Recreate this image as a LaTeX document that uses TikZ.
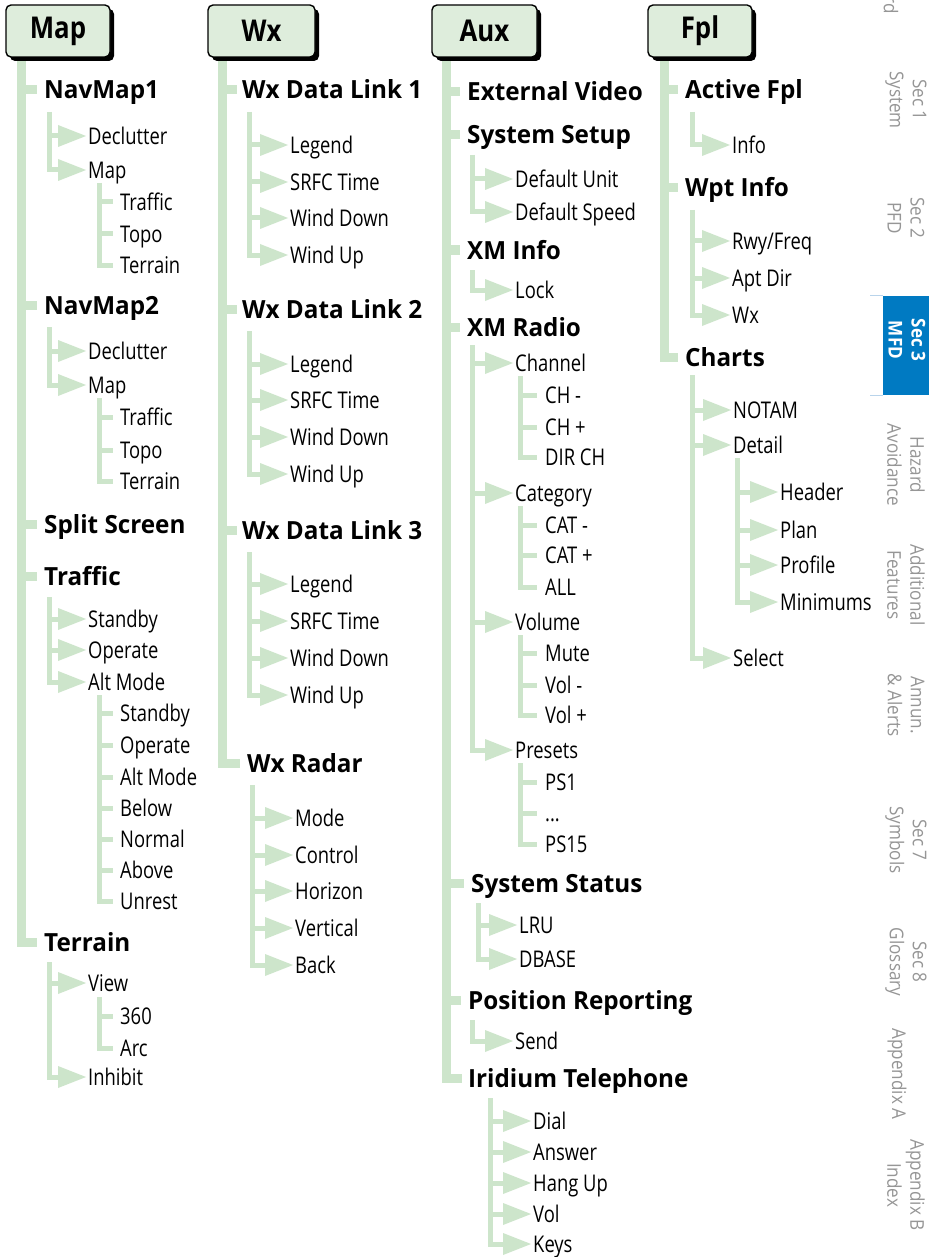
\documentclass[tikz,border=0pt]{standalone}
\usepackage{fontspec}
\usetikzlibrary{arrows.meta,shadows}
\newfontfamily\regf{Open Sans}[FakeStretch=0.8]
\newfontfamily\boldf{Open Sans}[FakeStretch=0.97]
\newfontfamily\hdrf{Open Sans}[FakeStretch=0.86]
\newfontfamily\tabf{Open Sans}[FakeStretch=0.9]
\definecolor{gr}{RGB}{205,229,203}
\definecolor{boxg}{RGB}{222,237,220}
\definecolor{tabblue}{RGB}{0,122,194}
\definecolor{tabgray}{RGB}{150,150,150}
\definecolor{tabline}{RGB}{185,212,235}
\begin{document}
\begin{tikzpicture}[x=1pt,y=-1pt,
 trunk/.style={draw=gr,line width=9pt,line join=miter},
 sub/.style={draw=gr,line width=5pt,line join=miter},
 arr/.style={-{Triangle[length=28pt,width=22pt,line width=0pt]}},
 hdr/.style={draw=black,line width=1.4pt,fill=boxg,rounded corners=5pt,minimum width=104pt,minimum height=52pt,inner sep=0pt,font=\hdrf\bfseries\fontsize{30}{30}\selectfont,drop shadow={shadow xshift=4pt,shadow yshift=-4pt,fill=black,opacity=1}},
 lone/.style={anchor=west,inner sep=0pt,text height=18pt,text depth=0pt,font=\boldf\bfseries\fontsize{25}{25}\selectfont},
 ltwo/.style={anchor=west,inner sep=0pt,text height=16.5pt,text depth=0pt,font=\regf\fontsize{23}{23}\selectfont},
 tab/.style={rotate=-90,align=center,text=tabgray,font=\tabf\fontsize{19}{23}\selectfont,inner sep=0pt},
]
\useasboundingbox (0,0) rectangle (929,1257);
\fill[white] (0,0) rectangle (929,1257);

% ---------------- Column 1: Map ----------------
\coordinate (tmap) at (21,50);
\node[lone] (navmapA) at (44,90) {NavMap1};
\node[ltwo] (declA) at (88,136) {Declutter};
\node[ltwo] (mapA) at (88,170) {Map};
\node[ltwo] (trafA) at (120,202) {Traffic};
\node[ltwo] (topoA) at (120,234) {Topo};
\node[ltwo] (terrA) at (120,265) {Terrain};
\node[lone] (navmapB) at (44,305) {NavMap2};
\node[ltwo] (declB) at (88,351) {Declutter};
\node[ltwo] (mapB) at (88,385) {Map};
\node[ltwo] (trafB) at (120,417) {Traffic};
\node[ltwo] (topoB) at (120,450) {Topo};
\node[ltwo] (terrB) at (120,481) {Terrain};
\node[lone] (split) at (44,524) {Split Screen};
\node[lone] (trafH) at (44,576) {Traffic};
\node[ltwo] (stbA) at (88,619) {Standby};
\node[ltwo] (opA) at (88,650) {Operate};
\node[ltwo] (altA) at (88,682) {Alt Mode};
\node[ltwo] (stbB) at (120,713) {Standby};
\node[ltwo] (opB) at (120,745) {Operate};
\node[ltwo] (altB) at (120,777) {Alt Mode};
\node[ltwo] (below) at (120,808) {Below};
\node[ltwo] (normal) at (120,839) {Normal};
\node[ltwo] (above) at (120,870) {Above};
\node[ltwo] (unrest) at (120,901) {Unrest};
\node[lone] (terrH) at (44,942) {Terrain};
\node[ltwo] (view) at (88,983) {View};
\node[ltwo] (dsix) at (120,1016) {360};
\node[ltwo] (arc) at (120,1048) {Arc};
\node[ltwo] (inhibit) at (88,1077) {Inhibit};
\coordinate (sA) at (49.5,112);
\coordinate (sAm) at (99.5,183);
\coordinate (sB) at (49.5,327);
\coordinate (sBm) at (99.5,398);
\coordinate (sT) at (49.5,597);
\coordinate (sTa) at (99.5,695);
\coordinate (sR) at (49.5,962);
\coordinate (sRv) at (99.5,997);

\draw[trunk] (tmap) |- ([xshift=-7pt]terrH.west);
\foreach \n in {navmapA,navmapB,split,trafH} \draw[trunk] (\n.west -| tmap) -- ([xshift=-7pt]\n.west);
\draw[sub,arr] (sA) |- ([xshift=-2pt]mapA.west);
\draw[sub,arr] (declA.west -| sA) -- ([xshift=-2pt]declA.west);
\draw[sub] (sAm) |- ([xshift=-7pt]terrA.west);
\foreach \n in {trafA,topoA} \draw[sub] (\n.west -| sAm) -- ([xshift=-7pt]\n.west);
\draw[sub,arr] (sB) |- ([xshift=-2pt]mapB.west);
\draw[sub,arr] (declB.west -| sB) -- ([xshift=-2pt]declB.west);
\draw[sub] (sBm) |- ([xshift=-7pt]terrB.west);
\foreach \n in {trafB,topoB} \draw[sub] (\n.west -| sBm) -- ([xshift=-7pt]\n.west);
\draw[sub,arr] (sT) |- ([xshift=-2pt]altA.west);
\foreach \n in {stbA,opA} \draw[sub,arr] (\n.west -| sT) -- ([xshift=-2pt]\n.west);
\draw[sub] (sTa) |- ([xshift=-7pt]unrest.west);
\foreach \n in {stbB,opB,altB,below,normal,above} \draw[sub] (\n.west -| sTa) -- ([xshift=-7pt]\n.west);
\draw[sub,arr] (sR) |- ([xshift=-2pt]inhibit.west);
\draw[sub,arr] (view.west -| sR) -- ([xshift=-2pt]view.west);
\draw[sub] (sRv) |- ([xshift=-7pt]arc.west);
\draw[sub] (dsix.west -| sRv) -- ([xshift=-7pt]dsix.west);

% ---------------- Column 2: Wx ----------------
\coordinate (twx) at (222,50);
\node[lone] (wxA) at (242,90) {Wx Data Link 1};
\node[ltwo] (legA) at (290,145) {Legend};
\node[ltwo] (srfcA) at (290,182) {SRFC Time};
\node[ltwo] (wdA) at (290,218) {Wind Down};
\node[ltwo] (wuA) at (290,255) {Wind Up};
\node[lone] (wxB) at (242,309) {Wx Data Link 2};
\node[ltwo] (legB) at (290,364) {Legend};
\node[ltwo] (srfcB) at (290,400) {SRFC Time};
\node[ltwo] (wdB) at (290,437) {Wind Down};
\node[ltwo] (wuB) at (290,474) {Wind Up};
\node[lone] (wxC) at (242,530) {Wx Data Link 3};
\node[ltwo] (legC) at (290,584) {Legend};
\node[ltwo] (srfcC) at (290,621) {SRFC Time};
\node[ltwo] (wdC) at (290,658) {Wind Down};
\node[ltwo] (wuC) at (290,695) {Wind Up};
\node[lone] (radar) at (247,763) {Wx Radar};
\node[ltwo] (mode) at (295,818) {Mode};
\node[ltwo] (control) at (295,855) {Control};
\node[ltwo] (horizon) at (295,891) {Horizon};
\node[ltwo] (vertical) at (295,928) {Vertical};
\node[ltwo] (back) at (295,965) {Back};
\coordinate (sW1) at (249.5,112);
\coordinate (sW2) at (249.5,331);
\coordinate (sW3) at (249.5,552);
\coordinate (sWr) at (252.5,785);

\draw[trunk] (twx) |- ([xshift=-7pt]radar.west);
\foreach \n in {wxA,wxB,wxC} \draw[trunk] (\n.west -| twx) -- ([xshift=-5pt]\n.west);
\draw[sub,arr] (sW1) |- ([xshift=-2pt]wuA.west);
\foreach \n in {legA,srfcA,wdA} \draw[sub,arr] (\n.west -| sW1) -- ([xshift=-2pt]\n.west);
\draw[sub,arr] (sW2) |- ([xshift=-2pt]wuB.west);
\foreach \n in {legB,srfcB,wdB} \draw[sub,arr] (\n.west -| sW2) -- ([xshift=-2pt]\n.west);
\draw[sub,arr] (sW3) |- ([xshift=-2pt]wuC.west);
\foreach \n in {legC,srfcC,wdC} \draw[sub,arr] (\n.west -| sW3) -- ([xshift=-2pt]\n.west);
\draw[sub,arr] (sWr) |- ([xshift=-2pt]back.west);
\foreach \n in {mode,control,horizon,vertical} \draw[sub,arr] (\n.west -| sWr) -- ([xshift=-2pt]\n.west);

% ---------------- Column 3: Aux ----------------
\coordinate (taux) at (446,50);
\node[lone] (ext) at (467,92) {External Video};
\node[lone] (setup) at (467,135) {System Setup};
\node[ltwo] (dunit) at (515,179) {Default Unit};
\node[ltwo] (dspeed) at (515,212) {Default Speed};
\node[lone] (xminfo) at (467,250) {XM Info};
\node[ltwo] (lock) at (515,290) {Lock};
\node[lone] (xmradio) at (467,327) {XM Radio};
\node[ltwo] (channel) at (515,363) {Channel};
\node[ltwo] (chm) at (545,395) {CH -};
\node[ltwo] (chp) at (545,427) {CH +};
\node[ltwo] (dirch) at (545,457) {DIR CH};
\node[ltwo] (category) at (515,493) {Category};
\node[ltwo] (catm) at (545,525) {CAT -};
\node[ltwo] (catp) at (545,555) {CAT +};
\node[ltwo] (all) at (545,587) {ALL};
\node[ltwo] (volume) at (515,622) {Volume};
\node[ltwo] (mute) at (545,653) {Mute};
\node[ltwo] (volm) at (545,685) {Vol -};
\node[ltwo] (volp) at (545,715) {Vol +};
\node[ltwo] (presets) at (515,750) {Presets};
\node[ltwo] (psone) at (545,782) {PS1};
\node[ltwo] (dots) at (545,813) {...};
\node[ltwo] (psfif) at (545,844) {PS15};
\node[lone] (status) at (471,883) {System Status};
\node[ltwo] (lru) at (519,925) {LRU};
\node[ltwo] (dbase) at (519,959) {DBASE};
\node[lone] (posrep) at (468,1000) {Position Reporting};
\node[ltwo] (send) at (515,1041) {Send};
\node[lone] (iridium) at (468,1078) {Iridium Telephone};
\node[ltwo] (dial) at (533,1121) {Dial};
\node[ltwo] (answer) at (533,1152) {Answer};
\node[ltwo] (hangup) at (533,1183) {Hang Up};
\node[ltwo] (vol) at (533,1214) {Vol};
\node[ltwo] (keys) at (533,1244) {Keys};
\coordinate (sSS) at (472.5,155);
\coordinate (sXI) at (472.5,270);
\coordinate (sXR) at (472.5,345);
\coordinate (sCh) at (520.5,376);
\coordinate (sCa) at (520.5,506);
\coordinate (sVo) at (520.5,635);
\coordinate (sPr) at (520.5,763);
\coordinate (sSt) at (478,903);
\coordinate (sPo) at (472.5,1020);
\coordinate (sIr) at (490.5,1098);

\draw[trunk] (taux) |- ([xshift=-6pt]iridium.west);
\foreach \n in {ext,setup,xminfo,xmradio,status,posrep} \draw[trunk] (\n.west -| taux) -- ([xshift=-7pt]\n.west);
\draw[sub,arr] (sSS) |- ([xshift=-2pt]dspeed.west);
\draw[sub,arr] (dunit.west -| sSS) -- ([xshift=-2pt]dunit.west);
\draw[sub,arr] (sXI) |- ([xshift=-2pt]lock.west);
\draw[sub,arr] (sXR) |- ([xshift=-2pt]presets.west);
\foreach \n in {channel,category,volume} \draw[sub,arr] (\n.west -| sXR) -- ([xshift=-2pt]\n.west);
\draw[sub] (sCh) |- ([xshift=-8pt]dirch.west);
\foreach \n in {chm,chp} \draw[sub] (\n.west -| sCh) -- ([xshift=-8pt]\n.west);
\draw[sub] (sCa) |- ([xshift=-8pt]all.west);
\foreach \n in {catm,catp} \draw[sub] (\n.west -| sCa) -- ([xshift=-8pt]\n.west);
\draw[sub] (sVo) |- ([xshift=-8pt]volp.west);
\foreach \n in {mute,volm} \draw[sub] (\n.west -| sVo) -- ([xshift=-8pt]\n.west);
\draw[sub] (sPr) |- ([xshift=-8pt]psfif.west);
\foreach \n in {psone,dots} \draw[sub] (\n.west -| sPr) -- ([xshift=-8pt]\n.west);
\draw[sub,arr] (sSt) |- ([xshift=-2pt]dbase.west);
\draw[sub,arr] (lru.west -| sSt) -- ([xshift=-2pt]lru.west);
\draw[sub,arr] (sPo) |- ([xshift=-2pt]send.west);
\draw[sub,arr] (sIr) |- ([xshift=-2pt]keys.west);
\foreach \n in {dial,answer,hangup,vol} \draw[sub,arr] (\n.west -| sIr) -- ([xshift=-2pt]\n.west);

% ---------------- Column 4: Fpl ----------------
\coordinate (tfpl) at (664,50);
\node[lone] (active) at (685,90) {Active Fpl};
\node[ltwo] (info) at (732,145) {Info};
\node[lone] (wpt) at (685,188) {Wpt Info};
\node[ltwo] (rwy) at (732,241) {Rwy/Freq};
\node[ltwo] (aptdir) at (732,278) {Apt Dir};
\node[ltwo] (wxf) at (732,315) {Wx};
\node[lone] (charts) at (685,357) {Charts};
\node[ltwo] (notam) at (733,410) {NOTAM};
\node[ltwo] (detail) at (733,445) {Detail};
\node[ltwo] (header) at (780,492) {Header};
\node[ltwo] (plan) at (780,530) {Plan};
\node[ltwo] (profile) at (780,565) {Profile};
\node[ltwo] (minimums) at (780,602) {Minimums};
\node[ltwo] (select) at (733,658) {Select};
\coordinate (sAF) at (692.5,112);
\coordinate (sWp) at (692.5,210);
\coordinate (sCt) at (692.5,375);
\coordinate (sDt) at (737.5,458);

\draw[trunk] (tfpl) |- ([xshift=-7pt]charts.west);
\foreach \n in {active,wpt} \draw[trunk] (\n.west -| tfpl) -- ([xshift=-7pt]\n.west);
\draw[sub,arr] (sAF) |- ([xshift=-2pt]info.west);
\draw[sub,arr] (sWp) |- ([xshift=-2pt]wxf.west);
\foreach \n in {rwy,aptdir} \draw[sub,arr] (\n.west -| sWp) -- ([xshift=-2pt]\n.west);
\draw[sub,arr] (sCt) |- ([xshift=-2pt]select.west);
\foreach \n in {notam,detail} \draw[sub,arr] (\n.west -| sCt) -- ([xshift=-2pt]\n.west);
\draw[sub,arr] (sDt) |- ([xshift=-2pt]minimums.west);
\foreach \n in {header,plan,profile} \draw[sub,arr] (\n.west -| sDt) -- ([xshift=-2pt]\n.west);

% ---------------- Header boxes ----------------
\node[hdr] (hmap) at (58,31) {Map};
\node[hdr,minimum width=107pt] (hwx) at (261.5,31) {Wx};
\node[hdr,minimum width=105pt] (haux) at (484.5,31) {Aux};
\node[hdr] (hfpl) at (700,31) {Fpl};

% ---------------- Side tabs ----------------
\node[fill=tabblue,minimum width=46pt,minimum height=99pt,inner sep=0pt] (tabbg) at (906,345.5) {};
\draw[tabline,line width=1pt] (tabbg.north west) -- ++(-13,0);
\draw[tabline,line width=1pt] (tabbg.south west) -- ++(-13,0);
\node[tab,text=white,font=\tabf\bfseries\fontsize{19}{23}\selectfont] (tab3) at (907,340) {Sec 3\\MFD};
\node[tab] (tab0) at (891,5) {rd};
\node[tab] (tab1) at (906,100) {Sec 1\\System};
\node[tab] (tab2) at (906,218) {Sec 2\\PFD};
\node[tab] (tab4) at (906,465) {Hazard\\Avoidance};
\node[tab] (tab5) at (906,585) {Additional\\Features};
\node[tab] (tab6) at (906,705) {Annun.\\\& Alerts};
\node[tab] (tab7) at (906,840) {Sec 7\\Symbols};
\node[tab] (tab8) at (906,962) {Sec 8\\Glossary};
\node[tab] (tab9) at (897,1074) {Appendix A};
\node[tab] (tab10) at (906,1185) {Appendix B\\Index};
\end{tikzpicture}
\end{document}
